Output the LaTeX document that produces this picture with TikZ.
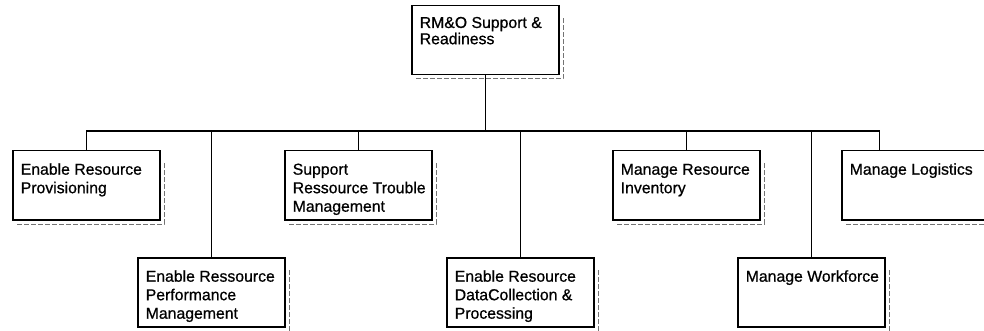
\documentclass[tikz,border=0pt]{standalone}
\usepackage{fontspec}
\setmainfont{Liberation Sans}
\newfontfamily\orgfont{Liberation Sans}[FakeBold=0.7]
\usetikzlibrary{calc}

% top-aligned, left-aligned block of unbroken lines inside an org-chart box
\newcommand{\orgtext}[1]{\parbox[t][47pt][t]{131pt}{\begin{tabular}[t]{@{}l@{}}#1\end{tabular}}}

\tikzset{
  unit/.style={draw=black, line width=1.5pt, anchor=north west,
    inner xsep=8pt, inner ysep=11pt,
    font=\orgfont\fontsize{15.8}{18.5}\selectfont},
  conn/.style={draw=black, line width=1.3pt},
  shadowline/.style={draw=black!55, line width=1pt, dash pattern=on 5pt off 2pt}
}

\begin{document}
\begin{tikzpicture}[x=1pt, y=-1pt]
  \useasboundingbox (0,0) rectangle (984,331);

  % boxes
  \node[unit, font=\orgfont\fontsize{15.8}{16}\selectfont] (root) at (411,5)
    {\orgtext{RM\&O Support \&\\Readiness}};
  \node[unit] (prov) at (12,150) {\orgtext{Enable Resource\\Provisioning}};
  \node[unit] (trbl) at (284,150) {\orgtext{Support\\Ressource Trouble\\Management}};
  \node[unit] (inv)  at (612,150) {\orgtext{Manage Resource\\Inventory}};
  \node[unit] (logi) at (841,150) {\orgtext{Manage Logistics}};
  \node[unit] (perf) at (137,257) {\orgtext{Enable Ressource\\Performance\\Management}};
  \node[unit] (data) at (446,257) {\orgtext{Enable Resource\\DataCollection \&\\Processing}};
  \node[unit] (work) at (737,257) {\orgtext{Manage Workforce}};

  % drop shadows along bottom and right edges
  \foreach \b in {root,prov,trbl,inv,logi,perf,data,work}{
    \draw[shadowline] ($(\b.south west)+(5,3.5)$) -- ($(\b.south east)+(3.5,3.5)$)
      -- ($(\b.north east)+(3.5,12)$);
  }

  % bus and connectors
  \coordinate (bus) at (0,131);
  \coordinate (logitop) at ($(logi.north west)!0.26!(logi.north east)$);
  \draw[conn] (root.south) -- (root.south |- bus);
  \draw[conn] (prov.north |- bus) -- (logitop |- bus);
  \draw[conn] (prov.north) -- (prov.north |- bus);
  \draw[conn] (trbl.north) -- (trbl.north |- bus);
  \draw[conn] (inv.north) -- (inv.north |- bus);
  \draw[conn] (logitop) -- (logitop |- bus);
  \draw[conn] (perf.north) -- (perf.north |- bus);
  \draw[conn] (data.north) -- (data.north |- bus);
  \draw[conn] (work.north) -- (work.north |- bus);
\end{tikzpicture}
\end{document}
